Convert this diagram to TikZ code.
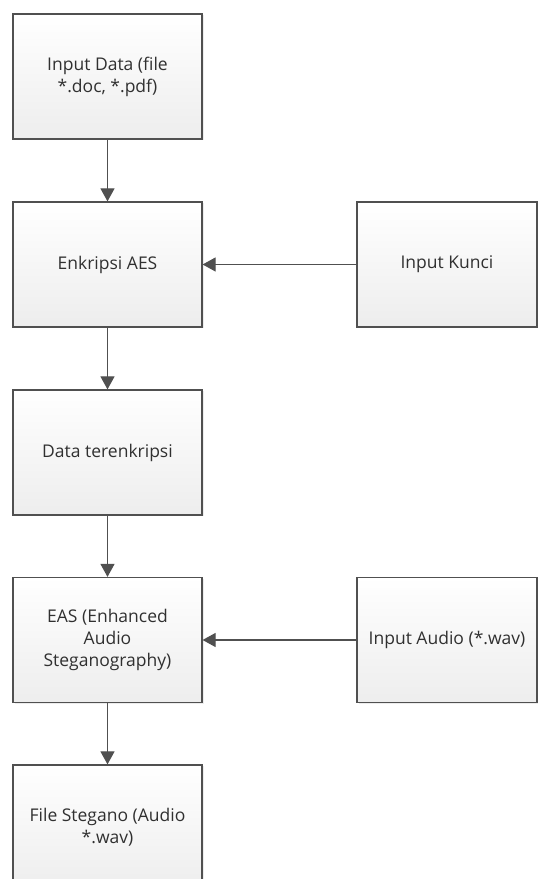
\documentclass[tikz,border=0pt]{standalone}
\usepackage{fontspec}
\setmainfont{Open Sans}
\usetikzlibrary{arrows.meta,shadows}
\definecolor{edge}{HTML}{505050}
\definecolor{txt}{HTML}{303030}
\begin{document}
\begin{tikzpicture}[x=1pt,y=1pt,
  procbox/.style={draw=edge, line width=1.2pt, top color=white, bottom color=black!7,
    minimum height=125pt, align=center, font=\fontsize{17.5}{22}\selectfont, text=txt,
    inner sep=0pt, drop shadow={shadow xshift=1.5pt, shadow yshift=-1.5pt, opacity=0.15}},
  leftbox/.style={procbox, minimum width=189pt},
  rightbox/.style={procbox, minimum width=180pt},
  flow/.style={draw=edge, line width=1.2pt, -{Triangle[width=14pt,length=13pt]}}
]
\useasboundingbox (0,0) rectangle (538,879);
\clip (0,0) rectangle (538,879);
\node[leftbox] (in) at (107.5,802.5) {Input Data (file\\ *.doc, *.pdf)};
\node[leftbox] (aes) at (107.5,614.5) {Enkripsi AES};
\node[leftbox] (enc) at (107.5,426.5) {Data terenkripsi};
\node[leftbox] (eas) at (107.5,239) {EAS (Enhanced\\ Audio\\ Steganography)};
\node[leftbox] (out) at (107.5,51.5) {File Stegano (Audio\\ *.wav)};
\node[rightbox] (key) at (447,614.5) {Input Kunci};
\node[rightbox] (aud) at (447,239) {Input Audio (*.wav)};
\draw[flow] (in) -- (aes);
\draw[flow] (aes) -- (enc);
\draw[flow] (enc) -- (eas);
\draw[flow] (eas) -- (out);
\draw[flow] (key) -- (aes);
\draw[flow] (aud) -- (eas);
\end{tikzpicture}
\end{document}
